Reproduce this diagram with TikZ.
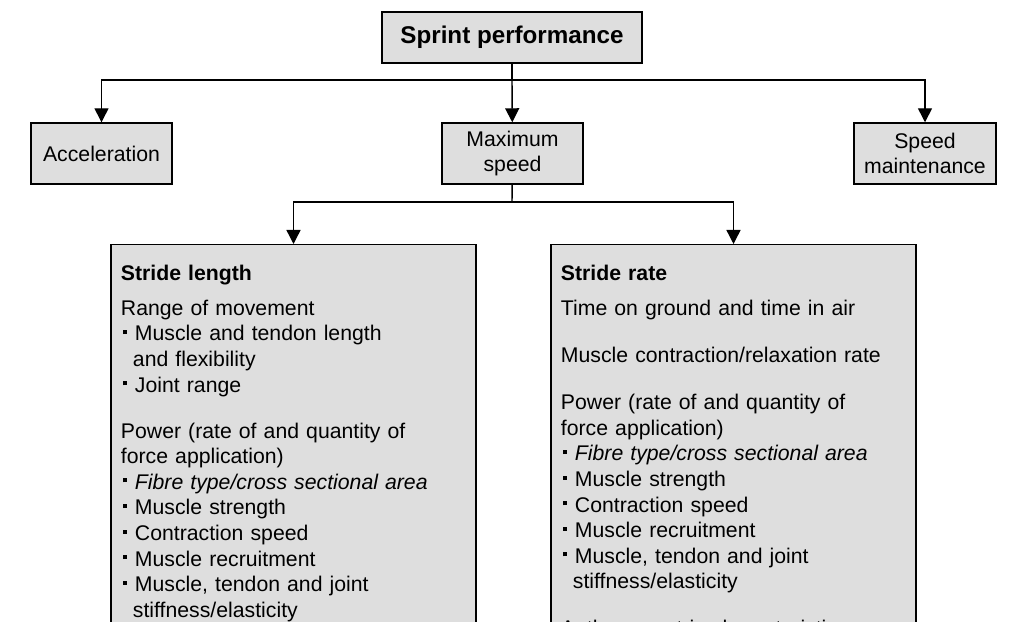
\documentclass[tikz,border=0pt]{standalone}
\usepackage{fontspec}
\setmainfont{Liberation Sans}
\usetikzlibrary{arrows.meta}
\definecolor{boxgray}{HTML}{DEDEDE}
% small square bullet, wrapped lines hang under the text
\newcommand{\blt}{\par\hangindent=0.3cm\hangafter=1\noindent\hspace{0.05cm}\raisebox{0.17cm}{\rule{0.1cm}{0.1cm}}\hspace{0.2cm}}

\begin{document}
\begin{tikzpicture}[x=0.025cm,y=0.025cm,>={Triangle[width=0.35cm,length=0.35cm]},
		box/.style={draw,line width=1pt,fill=boxgray,align=center,inner sep=0pt,
			font=\fontsize{15.1}{18.2}\selectfont},
		bigbox/.style={box,anchor=north,align=left,text width=8.625cm,
			inner xsep=0.25cm,inner ysep=0.5cm},
		link/.style={line width=1pt}]
	\useasboundingbox (0,0) rectangle (1024,-622);
	\clip (0,0) rectangle (1024,-622);
	% top levels
	\node[box,minimum width=6.5cm,minimum height=1.275cm,
		font=\fontsize{17.2}{20}\selectfont\bfseries] (sprint) at (512,-37.5) {Sprint performance};
	\node[box,minimum width=3.525cm,minimum height=1.525cm] (accel) at (101.5,-153.5) {Acceleration};
	\node[box,minimum width=3.525cm,minimum height=1.525cm] (maxspd) at (512.5,-153.5) {Maximum\\speed};
	\node[box,minimum width=3.55cm,minimum height=1.525cm] (spdmnt) at (925,-153.5) {Speed\\maintenance};
	\coordinate (j1) at (512,-80);
	\draw[link] (sprint) -- (j1);
	\draw[link,->] (j1) -| (accel);
	\draw[link,->] (j1) -- (maxspd);
	\draw[link,->] (j1) -| (spdmnt);
	% stride boxes
	\node[bigbox] (slength) at (293.5,-244) {%
		\textbf{Stride length}\par\vspace{0.24cm}
		Range of movement
		\blt Muscle and tendon length\newline and flexibility
		\blt Joint range\par\vspace{0.51cm}
		Power (rate of and quantity of\newline force application)
		\blt \textit{Fibre type/cross sectional area}
		\blt Muscle strength
		\blt Contraction speed
		\blt Muscle recruitment
		\blt Muscle, tendon and joint\newline stiffness/elasticity\par};
	\node[bigbox] (srate) at (733.5,-244) {%
		\textbf{Stride rate}\par\vspace{0.24cm}
		Time on ground and time in air\par\vspace{0.54cm}
		Muscle contraction/relaxation rate\par\vspace{0.54cm}
		Power (rate of and quantity of\newline force application)
		\blt \textit{Fibre type/cross sectional area}
		\blt Muscle strength
		\blt Contraction speed
		\blt Muscle recruitment
		\blt Muscle, tendon and joint\newline stiffness/elasticity\par\vspace{0.53cm}
		Anthropometric characteristics\par};
	\coordinate (j2) at (512,-202);
	\draw[link] (maxspd) -- (j2);
	\draw[link,->] (j2) -| (slength);
	\draw[link,->] (j2) -| (srate);
\end{tikzpicture}
\end{document}
